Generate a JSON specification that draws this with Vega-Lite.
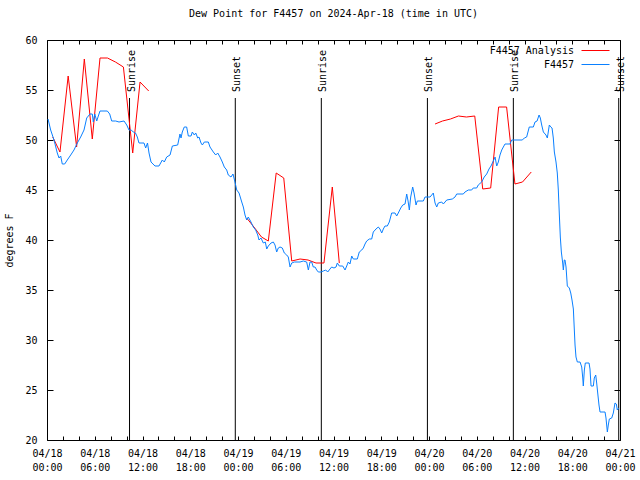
{
  "$schema": "https://vega.github.io/schema/vega-lite/v6.json",
  "width": 573,
  "height": 400,
  "autosize": {"type": "none"},
  "padding": {"left": 47, "top": 40, "right": 20, "bottom": 40},
  "background": "white",
  "title": {"text": "Dew Point for F4457 on 2024-Apr-18 (time in UTC)", "font": "DejaVu Sans Mono", "fontSize": 10, "fontWeight": "normal", "color": "black", "anchor": "middle", "offset": 16},
  "config": {
    "font": "DejaVu Sans Mono",
    "view": {"stroke": "black", "strokeWidth": 1},
    "axis": {"grid": false, "domain": false, "tickColor": "black", "tickWidth": 1, "labelColor": "black", "labelFont": "DejaVu Sans Mono", "labelFontSize": 10, "titleFont": "DejaVu Sans Mono", "titleFontSize": 10, "titleFontWeight": "normal", "titleColor": "black"}
  },
  "datasets": {
    "events": [
      {"h": 10.37, "e": "Sunrise"}, {"h": 23.66, "e": "Sunset"}, {"h": 34.47, "e": "Sunrise"},
      {"h": 47.8, "e": "Sunset"}, {"h": 58.6, "e": "Sunrise"}, {"h": 71.84, "e": "Sunset"}
    ],
    "series": [
      {"s": "F4457 Analysis", "g": "r1", "h": 0.72, "v": 50.3}, {"s": "F4457 Analysis", "g": "r1", "h": 1.63, "v": 48.8}, {"s": "F4457 Analysis", "g": "r1", "h": 2.66, "v": 56.4},
      {"s": "F4457 Analysis", "g": "r1", "h": 3.72, "v": 49.3}, {"s": "F4457 Analysis", "g": "r1", "h": 4.69, "v": 58.1}, {"s": "F4457 Analysis", "g": "r1", "h": 5.69, "v": 50.1},
      {"s": "F4457 Analysis", "g": "r1", "h": 6.66, "v": 58.2}, {"s": "F4457 Analysis", "g": "r1", "h": 7.6, "v": 58.2}, {"s": "F4457 Analysis", "g": "r1", "h": 8.6, "v": 57.8},
      {"s": "F4457 Analysis", "g": "r1", "h": 9.6, "v": 57.3}, {"s": "F4457 Analysis", "g": "r1", "h": 10.77, "v": 48.7}, {"s": "F4457 Analysis", "g": "r1", "h": 11.69, "v": 55.8},
      {"s": "F4457 Analysis", "g": "r1", "h": 12.78, "v": 54.9},
      {"s": "F4457 Analysis", "g": "r2", "h": 25.09, "v": 42.2}, {"s": "F4457 Analysis", "g": "r2", "h": 26.0, "v": 41.3}, {"s": "F4457 Analysis", "g": "r2", "h": 26.95, "v": 40.3},
      {"s": "F4457 Analysis", "g": "r2", "h": 27.81, "v": 39.9}, {"s": "F4457 Analysis", "g": "r2", "h": 28.8, "v": 46.7}, {"s": "F4457 Analysis", "g": "r2", "h": 29.75, "v": 46.2},
      {"s": "F4457 Analysis", "g": "r2", "h": 30.75, "v": 37.9}, {"s": "F4457 Analysis", "g": "r2", "h": 31.8, "v": 38.1}, {"s": "F4457 Analysis", "g": "r2", "h": 32.8, "v": 38.0},
      {"s": "F4457 Analysis", "g": "r2", "h": 33.8, "v": 37.7}, {"s": "F4457 Analysis", "g": "r2", "h": 34.8, "v": 37.7}, {"s": "F4457 Analysis", "g": "r2", "h": 35.85, "v": 45.3},
      {"s": "F4457 Analysis", "g": "r2", "h": 36.73, "v": 37.7},
      {"s": "F4457 Analysis", "g": "r3", "h": 48.76, "v": 51.6}, {"s": "F4457 Analysis", "g": "r3", "h": 49.7, "v": 51.9}, {"s": "F4457 Analysis", "g": "r3", "h": 50.7, "v": 52.1},
      {"s": "F4457 Analysis", "g": "r3", "h": 51.7, "v": 52.4}, {"s": "F4457 Analysis", "g": "r3", "h": 52.7, "v": 52.3}, {"s": "F4457 Analysis", "g": "r3", "h": 53.75, "v": 52.4},
      {"s": "F4457 Analysis", "g": "r3", "h": 54.75, "v": 45.1}, {"s": "F4457 Analysis", "g": "r3", "h": 55.75, "v": 45.2}, {"s": "F4457 Analysis", "g": "r3", "h": 56.75, "v": 53.3},
      {"s": "F4457 Analysis", "g": "r3", "h": 57.75, "v": 53.3}, {"s": "F4457 Analysis", "g": "r3", "h": 58.8, "v": 45.6}, {"s": "F4457 Analysis", "g": "r3", "h": 59.75, "v": 45.8},
      {"s": "F4457 Analysis", "g": "r3", "h": 60.85, "v": 46.8},
      {"s": "F4457", "g": "b", "h": 0.13, "v": 52.1}, {"s": "F4457", "g": "b", "h": 0.46, "v": 51.0}, {"s": "F4457", "g": "b", "h": 0.88, "v": 50.0}, {"s": "F4457", "g": "b", "h": 1.29, "v": 48.7},
      {"s": "F4457", "g": "b", "h": 1.51, "v": 48.2}, {"s": "F4457", "g": "b", "h": 1.72, "v": 48.4}, {"s": "F4457", "g": "b", "h": 1.92, "v": 47.6}, {"s": "F4457", "g": "b", "h": 2.22, "v": 47.6},
      {"s": "F4457", "g": "b", "h": 2.55, "v": 48.0}, {"s": "F4457", "g": "b", "h": 2.98, "v": 48.5}, {"s": "F4457", "g": "b", "h": 3.39, "v": 49.0}, {"s": "F4457", "g": "b", "h": 3.81, "v": 49.7},
      {"s": "F4457", "g": "b", "h": 4.23, "v": 50.3}, {"s": "F4457", "g": "b", "h": 4.65, "v": 51.0}, {"s": "F4457", "g": "b", "h": 4.99, "v": 52.2}, {"s": "F4457", "g": "b", "h": 5.40, "v": 52.6},
      {"s": "F4457", "g": "b", "h": 5.69, "v": 52.6}, {"s": "F4457", "g": "b", "h": 5.82, "v": 51.8}, {"s": "F4457", "g": "b", "h": 6.00, "v": 52.6}, {"s": "F4457", "g": "b", "h": 6.25, "v": 51.9},
      {"s": "F4457", "g": "b", "h": 6.41, "v": 52.3}, {"s": "F4457", "g": "b", "h": 6.66, "v": 52.9}, {"s": "F4457", "g": "b", "h": 7.58, "v": 52.9}, {"s": "F4457", "g": "b", "h": 7.88, "v": 52.6},
      {"s": "F4457", "g": "b", "h": 8.13, "v": 51.9}, {"s": "F4457", "g": "b", "h": 8.63, "v": 51.9}, {"s": "F4457", "g": "b", "h": 9.05, "v": 51.8}, {"s": "F4457", "g": "b", "h": 9.68, "v": 51.9},
      {"s": "F4457", "g": "b", "h": 10.02, "v": 51.5}, {"s": "F4457", "g": "b", "h": 10.30, "v": 51.0}, {"s": "F4457", "g": "b", "h": 10.59, "v": 51.0}, {"s": "F4457", "g": "b", "h": 10.84, "v": 50.8},
      {"s": "F4457", "g": "b", "h": 11.12, "v": 50.7}, {"s": "F4457", "g": "b", "h": 11.35, "v": 50.3}, {"s": "F4457", "g": "b", "h": 11.56, "v": 49.7}, {"s": "F4457", "g": "b", "h": 12.19, "v": 49.7},
      {"s": "F4457", "g": "b", "h": 12.40, "v": 49.2}, {"s": "F4457", "g": "b", "h": 12.63, "v": 49.7}, {"s": "F4457", "g": "b", "h": 12.82, "v": 48.7}, {"s": "F4457", "g": "b", "h": 13.07, "v": 47.8},
      {"s": "F4457", "g": "b", "h": 13.57, "v": 47.4}, {"s": "F4457", "g": "b", "h": 14.07, "v": 47.4}, {"s": "F4457", "g": "b", "h": 14.49, "v": 48.0}, {"s": "F4457", "g": "b", "h": 14.74, "v": 47.8},
      {"s": "F4457", "g": "b", "h": 15.04, "v": 48.3}, {"s": "F4457", "g": "b", "h": 15.46, "v": 48.5}, {"s": "F4457", "g": "b", "h": 15.75, "v": 49.4}, {"s": "F4457", "g": "b", "h": 16.42, "v": 49.5},
      {"s": "F4457", "g": "b", "h": 16.71, "v": 50.6}, {"s": "F4457", "g": "b", "h": 16.84, "v": 50.2}, {"s": "F4457", "g": "b", "h": 17.00, "v": 50.8}, {"s": "F4457", "g": "b", "h": 17.25, "v": 51.3},
      {"s": "F4457", "g": "b", "h": 17.55, "v": 51.3}, {"s": "F4457", "g": "b", "h": 17.76, "v": 50.4}, {"s": "F4457", "g": "b", "h": 18.10, "v": 50.4}, {"s": "F4457", "g": "b", "h": 18.26, "v": 50.8},
      {"s": "F4457", "g": "b", "h": 18.51, "v": 50.5}, {"s": "F4457", "g": "b", "h": 18.69, "v": 50.7}, {"s": "F4457", "g": "b", "h": 18.94, "v": 50.2}, {"s": "F4457", "g": "b", "h": 19.10, "v": 50.3},
      {"s": "F4457", "g": "b", "h": 19.35, "v": 49.7}, {"s": "F4457", "g": "b", "h": 19.52, "v": 49.5}, {"s": "F4457", "g": "b", "h": 19.77, "v": 49.8}, {"s": "F4457", "g": "b", "h": 20.27, "v": 49.8},
      {"s": "F4457", "g": "b", "h": 20.48, "v": 49.3}, {"s": "F4457", "g": "b", "h": 20.90, "v": 48.8}, {"s": "F4457", "g": "b", "h": 21.20, "v": 48.5}, {"s": "F4457", "g": "b", "h": 21.45, "v": 48.7},
      {"s": "F4457", "g": "b", "h": 21.74, "v": 48.3}, {"s": "F4457", "g": "b", "h": 22.03, "v": 47.8}, {"s": "F4457", "g": "b", "h": 22.28, "v": 47.3}, {"s": "F4457", "g": "b", "h": 22.58, "v": 47.0},
      {"s": "F4457", "g": "b", "h": 22.78, "v": 46.5}, {"s": "F4457", "g": "b", "h": 23.12, "v": 46.3}, {"s": "F4457", "g": "b", "h": 23.37, "v": 46.6}, {"s": "F4457", "g": "b", "h": 23.62, "v": 45.8},
      {"s": "F4457", "g": "b", "h": 23.84, "v": 45.0}, {"s": "F4457", "g": "b", "h": 24.13, "v": 44.7}, {"s": "F4457", "g": "b", "h": 24.47, "v": 43.8}, {"s": "F4457", "g": "b", "h": 24.67, "v": 43.3},
      {"s": "F4457", "g": "b", "h": 24.88, "v": 42.5}, {"s": "F4457", "g": "b", "h": 25.09, "v": 42.0}, {"s": "F4457", "g": "b", "h": 25.29, "v": 42.3}, {"s": "F4457", "g": "b", "h": 25.63, "v": 41.8},
      {"s": "F4457", "g": "b", "h": 25.92, "v": 41.3}, {"s": "F4457", "g": "b", "h": 26.22, "v": 41.0}, {"s": "F4457", "g": "b", "h": 26.48, "v": 40.5}, {"s": "F4457", "g": "b", "h": 26.64, "v": 40.0},
      {"s": "F4457", "g": "b", "h": 26.89, "v": 40.2}, {"s": "F4457", "g": "b", "h": 27.18, "v": 39.7}, {"s": "F4457", "g": "b", "h": 27.43, "v": 39.8}, {"s": "F4457", "g": "b", "h": 27.61, "v": 39.1},
      {"s": "F4457", "g": "b", "h": 27.81, "v": 39.4}, {"s": "F4457", "g": "b", "h": 28.15, "v": 39.7}, {"s": "F4457", "g": "b", "h": 28.44, "v": 39.8}, {"s": "F4457", "g": "b", "h": 28.65, "v": 39.5},
      {"s": "F4457", "g": "b", "h": 28.86, "v": 38.8}, {"s": "F4457", "g": "b", "h": 29.06, "v": 39.2}, {"s": "F4457", "g": "b", "h": 29.28, "v": 39.3}, {"s": "F4457", "g": "b", "h": 29.57, "v": 39.2},
      {"s": "F4457", "g": "b", "h": 29.82, "v": 38.7}, {"s": "F4457", "g": "b", "h": 30.12, "v": 38.5}, {"s": "F4457", "g": "b", "h": 30.32, "v": 38.3}, {"s": "F4457", "g": "b", "h": 30.54, "v": 37.3},
      {"s": "F4457", "g": "b", "h": 30.75, "v": 37.7}, {"s": "F4457", "g": "b", "h": 31.08, "v": 37.8}, {"s": "F4457", "g": "b", "h": 31.79, "v": 37.8}, {"s": "F4457", "g": "b", "h": 32.21, "v": 37.9},
      {"s": "F4457", "g": "b", "h": 32.63, "v": 37.8}, {"s": "F4457", "g": "b", "h": 32.84, "v": 37.0}, {"s": "F4457", "g": "b", "h": 33.05, "v": 37.8}, {"s": "F4457", "g": "b", "h": 33.26, "v": 37.8},
      {"s": "F4457", "g": "b", "h": 33.46, "v": 37.3}, {"s": "F4457", "g": "b", "h": 33.68, "v": 37.3}, {"s": "F4457", "g": "b", "h": 33.89, "v": 37.0}, {"s": "F4457", "g": "b", "h": 34.09, "v": 36.8},
      {"s": "F4457", "g": "b", "h": 34.43, "v": 36.8}, {"s": "F4457", "g": "b", "h": 34.72, "v": 36.9}, {"s": "F4457", "g": "b", "h": 35.02, "v": 37.0}, {"s": "F4457", "g": "b", "h": 35.27, "v": 36.8},
      {"s": "F4457", "g": "b", "h": 35.56, "v": 37.1}, {"s": "F4457", "g": "b", "h": 35.77, "v": 37.3}, {"s": "F4457", "g": "b", "h": 36.06, "v": 37.2}, {"s": "F4457", "g": "b", "h": 36.32, "v": 37.3},
      {"s": "F4457", "g": "b", "h": 36.48, "v": 37.7}, {"s": "F4457", "g": "b", "h": 36.73, "v": 37.4}, {"s": "F4457", "g": "b", "h": 37.16, "v": 37.4}, {"s": "F4457", "g": "b", "h": 37.45, "v": 37.0},
      {"s": "F4457", "g": "b", "h": 37.66, "v": 37.4}, {"s": "F4457", "g": "b", "h": 37.86, "v": 37.8}, {"s": "F4457", "g": "b", "h": 38.07, "v": 37.6}, {"s": "F4457", "g": "b", "h": 38.29, "v": 38.4},
      {"s": "F4457", "g": "b", "h": 38.49, "v": 38.1}, {"s": "F4457", "g": "b", "h": 38.99, "v": 38.1}, {"s": "F4457", "g": "b", "h": 39.24, "v": 38.8}, {"s": "F4457", "g": "b", "h": 39.55, "v": 39.0},
      {"s": "F4457", "g": "b", "h": 39.75, "v": 39.2}, {"s": "F4457", "g": "b", "h": 39.96, "v": 39.6}, {"s": "F4457", "g": "b", "h": 40.17, "v": 39.9}, {"s": "F4457", "g": "b", "h": 40.50, "v": 40.1},
      {"s": "F4457", "g": "b", "h": 40.80, "v": 40.1}, {"s": "F4457", "g": "b", "h": 41.00, "v": 40.8}, {"s": "F4457", "g": "b", "h": 41.34, "v": 41.1}, {"s": "F4457", "g": "b", "h": 41.63, "v": 41.3},
      {"s": "F4457", "g": "b", "h": 41.84, "v": 41.1}, {"s": "F4457", "g": "b", "h": 42.06, "v": 40.7}, {"s": "F4457", "g": "b", "h": 42.26, "v": 41.1}, {"s": "F4457", "g": "b", "h": 42.47, "v": 41.4},
      {"s": "F4457", "g": "b", "h": 42.76, "v": 41.4}, {"s": "F4457", "g": "b", "h": 43.01, "v": 41.8}, {"s": "F4457", "g": "b", "h": 43.31, "v": 42.7}, {"s": "F4457", "g": "b", "h": 43.73, "v": 42.7},
      {"s": "F4457", "g": "b", "h": 43.94, "v": 42.4}, {"s": "F4457", "g": "b", "h": 44.14, "v": 42.7}, {"s": "F4457", "g": "b", "h": 44.45, "v": 43.2}, {"s": "F4457", "g": "b", "h": 44.70, "v": 43.5},
      {"s": "F4457", "g": "b", "h": 44.99, "v": 43.6}, {"s": "F4457", "g": "b", "h": 45.20, "v": 44.6}, {"s": "F4457", "g": "b", "h": 45.37, "v": 43.9}, {"s": "F4457", "g": "b", "h": 45.53, "v": 43.0},
      {"s": "F4457", "g": "b", "h": 45.70, "v": 44.3}, {"s": "F4457", "g": "b", "h": 45.95, "v": 45.3}, {"s": "F4457", "g": "b", "h": 46.12, "v": 44.7}, {"s": "F4457", "g": "b", "h": 46.37, "v": 43.5},
      {"s": "F4457", "g": "b", "h": 46.53, "v": 43.9}, {"s": "F4457", "g": "b", "h": 47.29, "v": 43.9}, {"s": "F4457", "g": "b", "h": 47.50, "v": 44.3}, {"s": "F4457", "g": "b", "h": 48.13, "v": 44.3},
      {"s": "F4457", "g": "b", "h": 48.34, "v": 44.5}, {"s": "F4457", "g": "b", "h": 48.54, "v": 44.7}, {"s": "F4457", "g": "b", "h": 48.76, "v": 43.7}, {"s": "F4457", "g": "b", "h": 48.97, "v": 43.3},
      {"s": "F4457", "g": "b", "h": 49.17, "v": 43.7}, {"s": "F4457", "g": "b", "h": 49.60, "v": 43.8}, {"s": "F4457", "g": "b", "h": 49.80, "v": 43.6}, {"s": "F4457", "g": "b", "h": 50.23, "v": 44.0},
      {"s": "F4457", "g": "b", "h": 50.93, "v": 44.1}, {"s": "F4457", "g": "b", "h": 51.27, "v": 44.3}, {"s": "F4457", "g": "b", "h": 51.48, "v": 44.6}, {"s": "F4457", "g": "b", "h": 52.31, "v": 44.6},
      {"s": "F4457", "g": "b", "h": 52.52, "v": 44.8}, {"s": "F4457", "g": "b", "h": 52.94, "v": 45.0}, {"s": "F4457", "g": "b", "h": 53.36, "v": 45.0}, {"s": "F4457", "g": "b", "h": 53.56, "v": 45.2},
      {"s": "F4457", "g": "b", "h": 53.99, "v": 45.2}, {"s": "F4457", "g": "b", "h": 54.19, "v": 45.5}, {"s": "F4457", "g": "b", "h": 54.62, "v": 45.8}, {"s": "F4457", "g": "b", "h": 54.94, "v": 46.3},
      {"s": "F4457", "g": "b", "h": 55.25, "v": 46.6}, {"s": "F4457", "g": "b", "h": 55.54, "v": 47.1}, {"s": "F4457", "g": "b", "h": 55.79, "v": 47.4}, {"s": "F4457", "g": "b", "h": 56.08, "v": 47.9},
      {"s": "F4457", "g": "b", "h": 56.30, "v": 48.3}, {"s": "F4457", "g": "b", "h": 56.51, "v": 47.4}, {"s": "F4457", "g": "b", "h": 56.71, "v": 47.8}, {"s": "F4457", "g": "b", "h": 56.92, "v": 48.5},
      {"s": "F4457", "g": "b", "h": 57.14, "v": 49.0}, {"s": "F4457", "g": "b", "h": 57.34, "v": 49.3}, {"s": "F4457", "g": "b", "h": 57.55, "v": 49.6}, {"s": "F4457", "g": "b", "h": 58.18, "v": 49.6},
      {"s": "F4457", "g": "b", "h": 58.39, "v": 50.0}, {"s": "F4457", "g": "b", "h": 59.73, "v": 50.0}, {"s": "F4457", "g": "b", "h": 59.98, "v": 50.2}, {"s": "F4457", "g": "b", "h": 60.27, "v": 50.3},
      {"s": "F4457", "g": "b", "h": 60.60, "v": 51.3}, {"s": "F4457", "g": "b", "h": 61.11, "v": 51.3}, {"s": "F4457", "g": "b", "h": 61.32, "v": 51.8}, {"s": "F4457", "g": "b", "h": 61.58, "v": 51.9},
      {"s": "F4457", "g": "b", "h": 61.83, "v": 52.5}, {"s": "F4457", "g": "b", "h": 61.99, "v": 52.2}, {"s": "F4457", "g": "b", "h": 62.16, "v": 51.5}, {"s": "F4457", "g": "b", "h": 62.37, "v": 50.8},
      {"s": "F4457", "g": "b", "h": 62.70, "v": 50.5}, {"s": "F4457", "g": "b", "h": 62.87, "v": 50.2}, {"s": "F4457", "g": "b", "h": 63.12, "v": 51.5}, {"s": "F4457", "g": "b", "h": 63.30, "v": 51.3},
      {"s": "F4457", "g": "b", "h": 63.46, "v": 51.2}, {"s": "F4457", "g": "b", "h": 63.62, "v": 50.2}, {"s": "F4457", "g": "b", "h": 63.75, "v": 48.8}, {"s": "F4457", "g": "b", "h": 63.96, "v": 47.8},
      {"s": "F4457", "g": "b", "h": 64.12, "v": 46.7}, {"s": "F4457", "g": "b", "h": 64.25, "v": 45.0}, {"s": "F4457", "g": "b", "h": 64.38, "v": 42.5}, {"s": "F4457", "g": "b", "h": 64.50, "v": 40.3},
      {"s": "F4457", "g": "b", "h": 64.63, "v": 38.8}, {"s": "F4457", "g": "b", "h": 64.80, "v": 37.7}, {"s": "F4457", "g": "b", "h": 64.88, "v": 37.0}, {"s": "F4457", "g": "b", "h": 65.00, "v": 38.0},
      {"s": "F4457", "g": "b", "h": 65.09, "v": 38.0}, {"s": "F4457", "g": "b", "h": 65.22, "v": 37.3}, {"s": "F4457", "g": "b", "h": 65.38, "v": 35.4}, {"s": "F4457", "g": "b", "h": 65.63, "v": 35.2},
      {"s": "F4457", "g": "b", "h": 65.81, "v": 34.7}, {"s": "F4457", "g": "b", "h": 65.97, "v": 34.0}, {"s": "F4457", "g": "b", "h": 66.14, "v": 33.1}, {"s": "F4457", "g": "b", "h": 66.22, "v": 31.7},
      {"s": "F4457", "g": "b", "h": 66.35, "v": 29.5}, {"s": "F4457", "g": "b", "h": 66.47, "v": 28.3}, {"s": "F4457", "g": "b", "h": 66.64, "v": 27.8}, {"s": "F4457", "g": "b", "h": 66.98, "v": 27.8},
      {"s": "F4457", "g": "b", "h": 67.19, "v": 27.3}, {"s": "F4457", "g": "b", "h": 67.32, "v": 26.2}, {"s": "F4457", "g": "b", "h": 67.39, "v": 25.4}, {"s": "F4457", "g": "b", "h": 67.52, "v": 27.0},
      {"s": "F4457", "g": "b", "h": 67.64, "v": 27.7}, {"s": "F4457", "g": "b", "h": 68.11, "v": 27.7}, {"s": "F4457", "g": "b", "h": 68.23, "v": 27.1}, {"s": "F4457", "g": "b", "h": 68.36, "v": 25.4},
      {"s": "F4457", "g": "b", "h": 68.65, "v": 25.4}, {"s": "F4457", "g": "b", "h": 68.77, "v": 26.2}, {"s": "F4457", "g": "b", "h": 68.95, "v": 26.5}, {"s": "F4457", "g": "b", "h": 69.07, "v": 25.7},
      {"s": "F4457", "g": "b", "h": 69.20, "v": 24.7}, {"s": "F4457", "g": "b", "h": 69.36, "v": 23.5}, {"s": "F4457", "g": "b", "h": 69.49, "v": 22.8}, {"s": "F4457", "g": "b", "h": 70.12, "v": 22.8},
      {"s": "F4457", "g": "b", "h": 70.24, "v": 22.2}, {"s": "F4457", "g": "b", "h": 70.41, "v": 20.8}, {"s": "F4457", "g": "b", "h": 70.53, "v": 21.5}, {"s": "F4457", "g": "b", "h": 70.66, "v": 22.1},
      {"s": "F4457", "g": "b", "h": 70.96, "v": 22.2}, {"s": "F4457", "g": "b", "h": 71.16, "v": 22.7}, {"s": "F4457", "g": "b", "h": 71.37, "v": 23.7}, {"s": "F4457", "g": "b", "h": 71.54, "v": 23.6},
      {"s": "F4457", "g": "b", "h": 71.66, "v": 23.0}, {"s": "F4457", "g": "b", "h": 71.84, "v": 23.2}
    ]
  },
  "layer": [
    {
      "data": {"name": "events"},
      "mark": {"type": "rule", "color": "black", "strokeWidth": 1},
      "encoding": {
        "x": {"field": "h", "type": "quantitative", "scale": {"domain": [0, 72], "nice": false, "zero": false},
          "axis": {"orient": "bottom", "values": [0,2,4,6,8,10,12,14,16,18,20,22,24,26,28,30,32,34,36,38,40,42,44,46,48,50,52,54,56,58,60,62,64,66,68,70,72],
            "tickSize": -4, "labelPadding": 12, "labelBaseline": "top", "labelLineHeight": 14, "labelOverlap": false, "labelFlush": false, "labelBound": false, "title": null,
            "labelExpr": "datum.value % 6 == 0 ? ['04/' + (18 + floor(datum.value / 24)), (datum.value % 24 < 10 ? '0' : '') + (datum.value % 24) + ':00'] : ''"}},
        "y": {"datum": 54.2, "type": "quantitative", "scale": {"domain": [20, 60], "nice": false, "zero": false},
          "axis": {"orient": "left", "values": [20,25,30,35,40,45,50,55,60], "tickSize": -6, "labelPadding": 16, "title": "degrees F", "titlePadding": 10}},
        "y2": {"datum": 20}
      }
    },
    {
      "data": {"name": "events"},
      "mark": {"type": "text", "angle": 270, "align": "left", "baseline": "middle", "dx": 6, "dy": 2, "fontSize": 10, "color": "black", "font": "DejaVu Sans Mono"},
      "encoding": {
        "x": {"field": "h", "type": "quantitative", "axis": null},
        "y": {"datum": 54.2, "type": "quantitative", "axis": null},
        "text": {"field": "e"}
      }
    },
    {
      "data": {"name": "series"},
      "mark": {"type": "line", "strokeWidth": 1},
      "encoding": {
        "x": {"field": "h", "type": "quantitative",
          "axis": {"orient": "top", "values": [0,2,4,6,8,10,12,14,16,18,20,22,24,26,28,30,32,34,36,38,40,42,44,46,48,50,52,54,56,58,60,62,64,66,68,70,72], "labels": false, "tickSize": -4, "title": null}},
        "y": {"field": "v", "type": "quantitative",
          "axis": {"orient": "right", "values": [20,25,30,35,40,45,50,55,60], "labels": false, "tickSize": -6, "title": null}},
        "detail": {"field": "g"},
        "color": {"field": "s", "type": "nominal",
          "scale": {"domain": ["F4457 Analysis", "F4457"], "range": ["#ff0000", "#0a80ff"]},
          "legend": {"orient": "none", "legendX": 543, "legendY": 5, "title": null, "padding": 0, "symbolType": "M-2.8,0H2.8", "symbolSize": 100, "symbolStrokeWidth": 1,
            "labelFont": "DejaVu Sans Mono", "labelFontSize": 10, "labelColor": "black", "labelAlign": "right", "labelOffset": -27, "rowPadding": 3}}
      }
    }
  ],
  "resolve": {"axis": {"x": "independent", "y": "independent"}}
}
